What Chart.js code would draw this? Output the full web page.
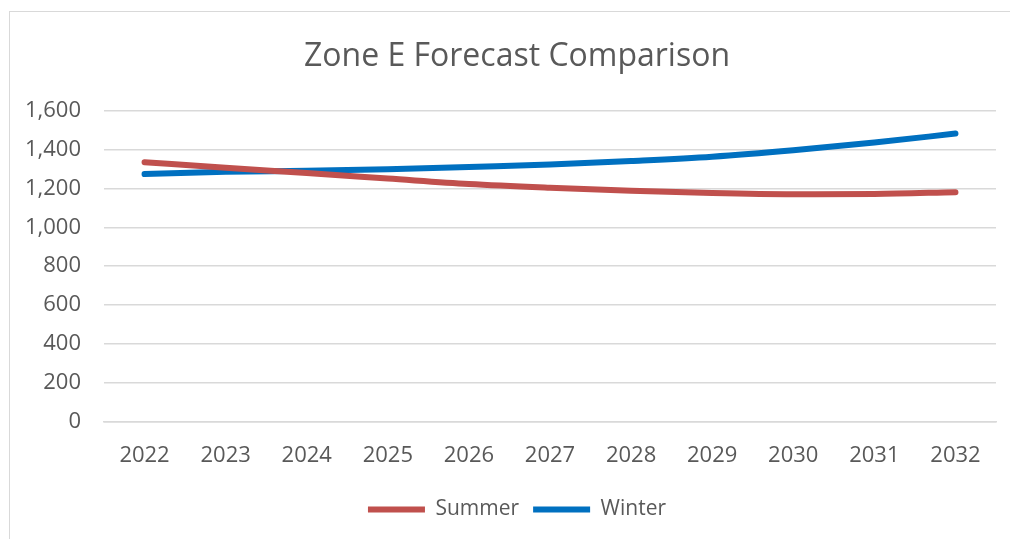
<!DOCTYPE html>
<html>
<head>
<meta charset="utf-8">
<script src="https://cdn.jsdelivr.net/npm/chart.js@4"></script>
<style>
    html, body { margin: 0; padding: 0; background: #fff; }
    #wrap { position: relative; width: 1010px; height: 539px; }
    #frame {
        position: absolute; left: 9px; top: 11px; right: -2px; bottom: -2px;
        border-left: 1.5px solid #d9d9d9; border-top: 1.5px solid #d9d9d9;
        pointer-events: none;
    }
</style>
</head>
<body>
<div id="wrap">
    <canvas id="lineChart" width="1010" height="539"></canvas>
    <div id="frame"></div>
</div>
<script>
const years = ["2022", "2023", "2024", "2025", "2026", "2027", "2028", "2029", "2030", "2031", "2032"];
const summer = [1334, 1305, 1278, 1250, 1222, 1203, 1188, 1176, 1170, 1171, 1180];
const winter = [1273, 1285, 1290, 1298, 1310, 1322, 1340, 1362, 1395, 1435, 1481];
const yTicks = [0, 200, 400, 600, 800, 1000, 1200, 1400, 1600];

const textColor = "#595959";
const gridColor = "#d9d9d9";
const fontFamily = "'Open Sans', 'Noto Sans', sans-serif";

// title and legend sit centred over the frame, not over the canvas
const shiftBlocks = {
    id: "shiftBlocks",
    afterLayout(chart) {
        chart.titleBlock.left += 38;
        chart.legend.left += 38;
    }
};

let lineData = {
    labels: years,
    datasets: [{
        label: "Summer",
        data: summer,
        borderColor: "#c0504d",
        backgroundColor: "#c0504d",
        borderWidth: 6,
        borderCapStyle: "round",
        pointRadius: 0,
        tension: 0.4,
        cubicInterpolationMode: "monotone"
    }, {
        label: "Winter",
        data: winter,
        borderColor: "#0070c0",
        backgroundColor: "#0070c0",
        borderWidth: 6,
        borderCapStyle: "round",
        pointRadius: 0,
        tension: 0.4,
        cubicInterpolationMode: "monotone"
    }]
};

let lineOptions = {
    responsive: false,
    animation: false,
    layout: { padding: { left: 0, right: 14, top: 0, bottom: 9 } },
    plugins: {
        title: {
            display: true,
            text: "Zone E Forecast Comparison",
            color: textColor,
            font: { family: fontFamily, size: 32, weight: "normal" },
            padding: { top: 38, bottom: 34 }
        },
        legend: {
            position: "bottom",
            labels: {
                usePointStyle: true,
                pointStyle: "line",
                pointStyleWidth: 57,
                color: textColor,
                font: { family: fontFamily, size: 21 },
                padding: 14
            }
        },
        tooltip: { enabled: false }
    },
    scales: {
        x: {
            offset: true,
            grid: { display: false, drawTicks: false },
            border: { display: true, color: gridColor, width: 1.5 },
            ticks: { color: textColor, font: { family: fontFamily, size: 22 }, padding: 21 },
            afterFit: (scale) => { scale.height = 63; }
        },
        y: {
            min: yTicks[0],
            max: yTicks[yTicks.length - 1],
            afterBuildTicks: (scale) => { scale.ticks = yTicks.map(v => ({ value: v })); },
            grid: { color: gridColor, lineWidth: 1.5, drawTicks: false },
            border: { display: false },
            ticks: { color: textColor, font: { family: fontFamily, size: 22 }, padding: 23 },
            afterFit: (scale) => { scale.width = 104; }
        }
    }
};

let ctx = document.getElementById("lineChart").getContext("2d");
new Chart(ctx, { type: "line", data: lineData, options: lineOptions, plugins: [shiftBlocks] });
</script>
</body>
</html>
